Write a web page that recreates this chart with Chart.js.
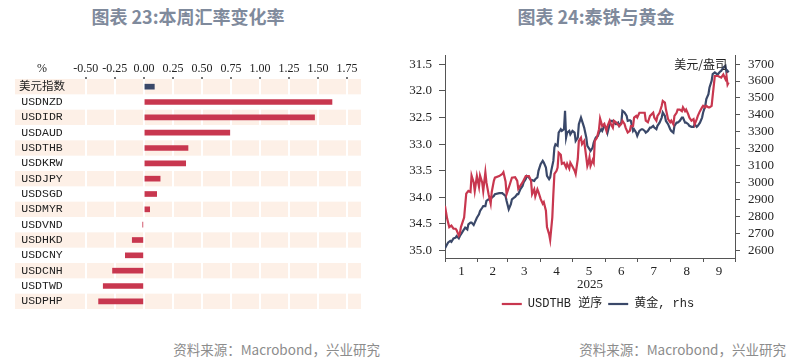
<!DOCTYPE html>
<html>
<head>
<meta charset="utf-8">
<script src="https://cdn.jsdelivr.net/npm/chart.js@4.4.1/dist/chart.umd.min.js"></script>
<style>
  body { margin: 0; width: 806px; height: 362px; background: #fff; position: relative; overflow: hidden; font-family: "Noto Sans CJK SC", sans-serif; }
  .title { position: absolute; top: 3px; width: 300px; text-align: center; font-size: 18px; font-weight: bold; color: #7f8a9c; }
  .src { position: absolute; top: 339px; width: 260px; text-align: right; font-size: 13.5px; color: #8c8c8c; }
  .box { position: absolute; top: 40px; height: 280px; }
</style>
</head>
<body>
<div class="title" style="left:38px">图表 23:本周汇率变化率</div>
<div class="title" style="left:446px">图表 24:泰铢与黄金</div>
<div class="box" style="left:0;width:375px"><canvas id="fx"></canvas></div>
<div class="box" style="left:390px;width:416px"><canvas id="thb"></canvas></div>
<div class="src" style="left:120px">资料来源：Macrobond，兴业研究</div>
<div class="src" style="left:526px">资料来源：Macrobond，兴业研究</div>
<script>
// 左图：本周汇率变化率（%）
const fxLabels = ["美元指数", "USDNZD", "USDIDR", "USDAUD", "USDTHB", "USDKRW", "USDJPY", "USDSGD",
  "USDMYR", "USDVND", "USDHKD", "USDCNY", "USDCNH", "USDTWD", "USDPHP"];
const fxChange = [0.09, 1.62, 1.47, 0.74, 0.38, 0.36, 0.14, 0.11, 0.05, -0.01, -0.10, -0.16, -0.27, -0.35, -0.39];
const fxTicks = [-0.5, -0.25, 0, 0.25, 0.5, 0.75, 1, 1.25, 1.5, 1.75];

// 右图：USDTHB（逆序）与黄金，横轴为 2025 年的第几天
const thbDays = [0, 2, 4, 6, 8, 10, 11, 13, 14, 15, 18, 20, 22, 24, 25, 27, 28, 30, 32, 33, 35, 36, 38, 39, 41, 43, 44, 46, 47, 51,
  54, 55, 57, 58, 60, 63, 66, 68, 69, 71, 73, 76, 79, 81, 82, 84, 85, 87, 88, 90, 92, 93, 95, 96, 98, 99, 101, 102, 103, 105,
  106, 107, 109, 110, 112, 114, 115, 117, 118, 120, 122, 123, 125, 126, 128, 129, 131, 133, 134, 135, 136, 137, 139, 140, 141, 143, 145, 146, 147, 148,
  150, 152, 153, 155, 156, 158, 159, 161, 164, 166, 167, 169, 170, 172, 174, 175, 177, 178, 180, 181, 183, 186, 188, 189, 191, 193, 196, 197, 199, 200,
  202, 204, 205, 207, 208, 210, 212, 213, 215, 216, 218, 219, 221, 223, 224, 226, 227, 229, 230, 232, 234, 235, 237, 238, 240, 242, 243, 245, 246, 248,
  249, 251, 252, 254, 257, 260, 262, 264, 265, 266, 267];
const thbValues = [34.16, 34.40, 34.56, 34.53, 34.59, 34.59, 34.62, 34.72, 34.68, 34.56, 34.38, 33.93, 33.88, 33.90, 33.59, 33.72, 33.88, 33.60, 33.80, 33.59,
  33.72, 33.88, 33.53, 33.72, 33.94, 34.12, 33.90, 33.69, 33.63, 33.60, 33.56, 33.53, 33.70, 33.94, 33.82, 33.63, 33.62, 33.69, 33.84, 33.78,
  33.72, 33.60, 33.60, 33.69, 33.94, 33.85, 33.98, 33.85, 33.90, 34.03, 34.12, 34.09, 34.25, 34.56, 34.69, 34.80, 34.38, 33.94, 33.56, 33.50,
  33.44, 33.16, 33.20, 33.37, 33.35, 33.44, 33.37, 33.46, 33.35, 33.42, 33.50, 33.56, 33.28, 32.94, 32.88, 33.00, 32.94, 33.25, 33.41, 33.35,
  33.25, 33.41, 33.30, 33.35, 32.94, 32.88, 32.72, 32.52, 32.59, 32.66, 32.62, 32.75, 32.66, 32.56, 32.62, 32.69, 32.56, 32.59, 32.66, 32.62,
  32.56, 32.62, 32.69, 32.78, 32.75, 32.66, 32.66, 32.50, 32.47, 32.50, 32.41, 32.41, 32.41, 32.56, 32.59, 32.47, 32.41, 32.50, 32.56, 32.47,
  32.41, 32.28, 32.19, 32.22, 32.35, 32.53, 32.59, 32.56, 32.63, 32.47, 32.41, 32.35, 32.35, 32.38, 32.31, 32.38, 32.35, 32.44, 32.50, 32.56,
  32.53, 32.63, 32.53, 32.47, 32.38, 32.31, 32.28, 32.31, 32.28, 32.31, 32.31, 32.28, 32.09, 31.72, 31.72, 31.75, 31.69, 31.78, 31.72, 31.88, 31.84];

const goldDays = [0, 2, 3, 5, 6, 8, 10, 11, 13, 14, 16, 17, 19, 21, 22, 24, 25, 27, 28, 30, 32, 33, 35, 36, 38, 39, 41, 43, 44, 46,
  47, 51, 54, 55, 57, 58, 60, 62, 63, 65, 66, 68, 69, 71, 73, 74, 76, 77, 79, 81, 82, 84, 85, 87, 88, 90, 92, 93, 95, 96,
  98, 99, 100, 102, 103, 104, 106, 107, 109, 110, 112, 113, 114, 115, 117, 118, 120, 122, 123, 125, 126, 128, 129, 131, 133, 134, 136, 137, 139, 140,
  142, 144, 145, 147, 148, 150, 152, 153, 155, 156, 158, 159, 161, 163, 164, 166, 167, 169, 171, 172, 174, 175, 177, 178, 180, 181, 183, 185, 186, 188,
  189, 191, 193, 194, 196, 197, 199, 200, 202, 204, 205, 207, 208, 210, 212, 213, 215, 216, 218, 219, 221, 223, 224, 226, 227, 229, 230, 232, 234, 235,
  237, 238, 240, 242, 243, 245, 246, 248, 249, 251, 252, 254, 256, 257, 259, 260, 262, 264, 265, 266, 267];
const goldValues = [2611, 2635, 2646, 2655, 2650, 2670, 2674, 2684, 2670, 2684, 2704, 2714, 2733, 2723, 2753, 2763, 2763, 2749, 2763, 2792,
  2812, 2832, 2851, 2861, 2861, 2891, 2901, 2901, 2911, 2921, 2931, 2937, 2937, 2931, 2921, 2891, 2842, 2872, 2901, 2911,
  2915, 2931, 2931, 2961, 2980, 3000, 3020, 3039, 3030, 3014, 3014, 3010, 3020, 3030, 3069, 3108, 3128, 3118, 3089, 3039,
  3020, 3030, 3069, 3128, 3207, 3226, 3217, 3295, 3315, 3305, 3315, 3424, 3266, 3295, 3305, 3285, 3305, 3295, 3246, 3266,
  3345, 3384, 3364, 3325, 3266, 3217, 3197, 3187, 3207, 3236, 3266, 3276, 3295, 3315, 3305, 3335, 3325, 3295, 3345, 3364,
  3364, 3354, 3345, 3354, 3335, 3354, 3424, 3414, 3394, 3364, 3368, 3364, 3305, 3315, 3295, 3276, 3305, 3315, 3315, 3305,
  3295, 3305, 3325, 3325, 3335, 3325, 3315, 3335, 3354, 3384, 3414, 3394, 3364, 3345, 3315, 3305, 3295, 3335, 3354, 3354,
  3364, 3384, 3384, 3354, 3354, 3345, 3335, 3329, 3329, 3345, 3329, 3335, 3354, 3384, 3414, 3453, 3493, 3522, 3562, 3601,
  3641, 3651, 3641, 3641, 3656, 3660, 3680, 3690, 3651, 3660, 3651];

const monthStarts = [0, 31, 59, 90, 120, 151, 181, 212, 243, 273];
const monthLabels = ["1", "2", "3", "4", "5", "6", "7", "8", "9"];
const thbTicks = [31.5, 32.0, 32.5, 33.0, 33.5, 34.0, 34.5, 35.0];
const goldTicks = [2600, 2700, 2800, 2900, 3000, 3100, 3200, 3300, 3400, 3500, 3600, 3700];

const RED = "#c8374f";
const NAVY = "#3a4869";
const serif = "'Liberation Serif', 'Times New Roman', serif";
const mono = "'Liberation Mono', 'Noto Sans CJK SC', monospace";

// 隔行底色
const rowBands = {
  id: "rowBands",
  beforeDraw(chart) {
    const { ctx, chartArea, scales } = chart;
    const h = chartArea.height / fxLabels.length;
    ctx.save();
    ctx.fillStyle = "#fdf0e7";
    fxLabels.forEach((l, i) => {
      if (i % 2) return;
      const y = scales.y.getPixelForValue(i);
      ctx.fillRect(chartArea.left, y - h / 2, chartArea.width, h);
    });
    ctx.restore();
  },
  afterDraw(chart) {
    const { ctx, chartArea } = chart;
    ctx.save();
    ctx.font = "12px " + serif;
    ctx.fillStyle = "#222";
    ctx.textAlign = "center";
    ctx.textBaseline = "middle";
    ctx.fillText("%", 42, chartArea.top - 10);
    ctx.restore();
  }
};

new Chart(document.getElementById("fx"), {
  type: "bar",
  data: {
    labels: fxLabels,
    datasets: [{
      data: fxChange,
      backgroundColor: fxLabels.map((l, i) => (i === 0 ? NAVY : RED)),
      barThickness: 5
    }]
  },
  options: {
    indexAxis: "y",
    responsive: true,
    maintainAspectRatio: false,
    animation: false,
    layout: { padding: { left: 7, right: 14, top: 0, bottom: 11 } },
    plugins: { legend: { display: false }, tooltip: { enabled: false } },
    scales: {
      x: {
        position: "top",
        min: -1.11,
        max: 1.87,
        afterBuildTicks: (axis) => { axis.ticks = fxTicks.map((v) => ({ value: v })); },
        afterFit: (axis) => { axis.height = 39; },
        ticks: {
          autoSkip: false,
          maxRotation: 0,
          padding: 1,
          color: "#222",
          font: { family: serif, size: 12 },
          callback: (v) => v.toFixed(2)
        },
        grid: { color: "#fff", lineWidth: 2, tickColor: "#777", tickLength: 2 },
        border: { display: false }
      },
      y: {
        ticks: {
          autoSkip: false,
          mirror: true,
          crossAlign: "center",
          padding: 4,
          color: "#222",
          font: { family: mono, size: 11.5 }
        },
        grid: { display: false, drawTicks: false },
        border: { display: false }
      }
    }
  },
  plugins: [rowBands]
});

// 右上角单位
const unitLabel = {
  id: "unitLabel",
  afterDraw(chart) {
    const { ctx, chartArea, scales } = chart;
    ctx.save();
    ctx.font = "12px 'Noto Sans CJK SC'";
    ctx.fillStyle = "#222";
    ctx.textAlign = "right";
    ctx.textBaseline = "middle";
    ctx.fillText("美元/盎司", chartArea.right - 8, scales.y1.getPixelForValue(3700));
    ctx.restore();
  }
};

new Chart(document.getElementById("thb"), {
  type: "line",
  data: {
    datasets: [
      {
        label: "USDTHB 逆序",
        data: thbDays.map((d, i) => ({ x: d, y: thbValues[i] })),
        borderColor: RED,
        backgroundColor: RED,
        borderWidth: 2.2,
        pointRadius: 0,
        yAxisID: "y"
      },
      {
        label: "黄金, rhs",
        data: goldDays.map((d, i) => ({ x: d, y: goldValues[i] })),
        borderColor: NAVY,
        backgroundColor: NAVY,
        borderWidth: 2.2,
        pointRadius: 0,
        yAxisID: "y1"
      }
    ]
  },
  options: {
    responsive: true,
    maintainAspectRatio: false,
    animation: false,
    layout: { padding: { left: 0, right: 0, top: 15, bottom: 0 } },
    plugins: {
      tooltip: { enabled: false },
      legend: {
        position: "bottom",
        labels: {
          usePointStyle: true,
          pointStyle: "line",
          pointStyleWidth: 20,
          padding: 6,
          color: "#222",
          font: { family: mono, size: 12 }
        }
      }
    },
    scales: {
      x: {
        type: "linear",
        min: 0,
        max: 273,
        afterBuildTicks: (axis) => {
          const ticks = [];
          monthStarts.forEach((d, i) => {
            ticks.push({ value: d });
            if (i < monthLabels.length) ticks.push({ value: (d + monthStarts[i + 1]) / 2 });
          });
          axis.ticks = ticks;
        },
        afterFit: (axis) => { axis.height = 34; },
        ticks: {
          autoSkip: false,
          maxRotation: 0,
          padding: 2,
          color: "#222",
          font: { family: serif, size: 13 },
          callback: (v) => {
            const i = monthStarts.findIndex((d, k) => k < monthLabels.length && (d + monthStarts[k + 1]) / 2 === v);
            return i >= 0 ? monthLabels[i] : "";
          }
        },
        grid: {
          drawOnChartArea: false,
          tickLength: 4,
          tickColor: (c) => (monthStarts.includes(c.tick && c.tick.value) ? "#555" : "rgba(0,0,0,0)")
        },
        border: { color: "#555" },
        title: { display: true, text: "2025", color: "#222", font: { family: serif, size: 13 }, padding: 0 }
      },
      y: {
        position: "left",
        reverse: true,
        min: 31.34,
        max: 35.14,
        afterBuildTicks: (axis) => { axis.ticks = thbTicks.map((v) => ({ value: v })); },
        afterFit: (axis) => { axis.width = 55; },
        ticks: { autoSkip: false, padding: 7, color: "#222", font: { family: serif, size: 13 }, callback: (v) => v.toFixed(1) },
        grid: { drawOnChartArea: false, tickLength: 6, tickColor: "#555" },
        border: { color: "#555" }
      },
      y1: {
        position: "right",
        min: 2554,
        max: 3749,
        afterBuildTicks: (axis) => { axis.ticks = goldTicks.map((v) => ({ value: v })); },
        afterFit: (axis) => { axis.width = 71; },
        ticks: { autoSkip: false, padding: 8, color: "#222", font: { family: serif, size: 13 }, callback: (v) => String(v) },
        grid: { drawOnChartArea: false, tickLength: 5, tickColor: "#555" },
        border: { color: "#555" }
      }
    }
  },
  plugins: [unitLabel]
});
</script>
</body>
</html>
